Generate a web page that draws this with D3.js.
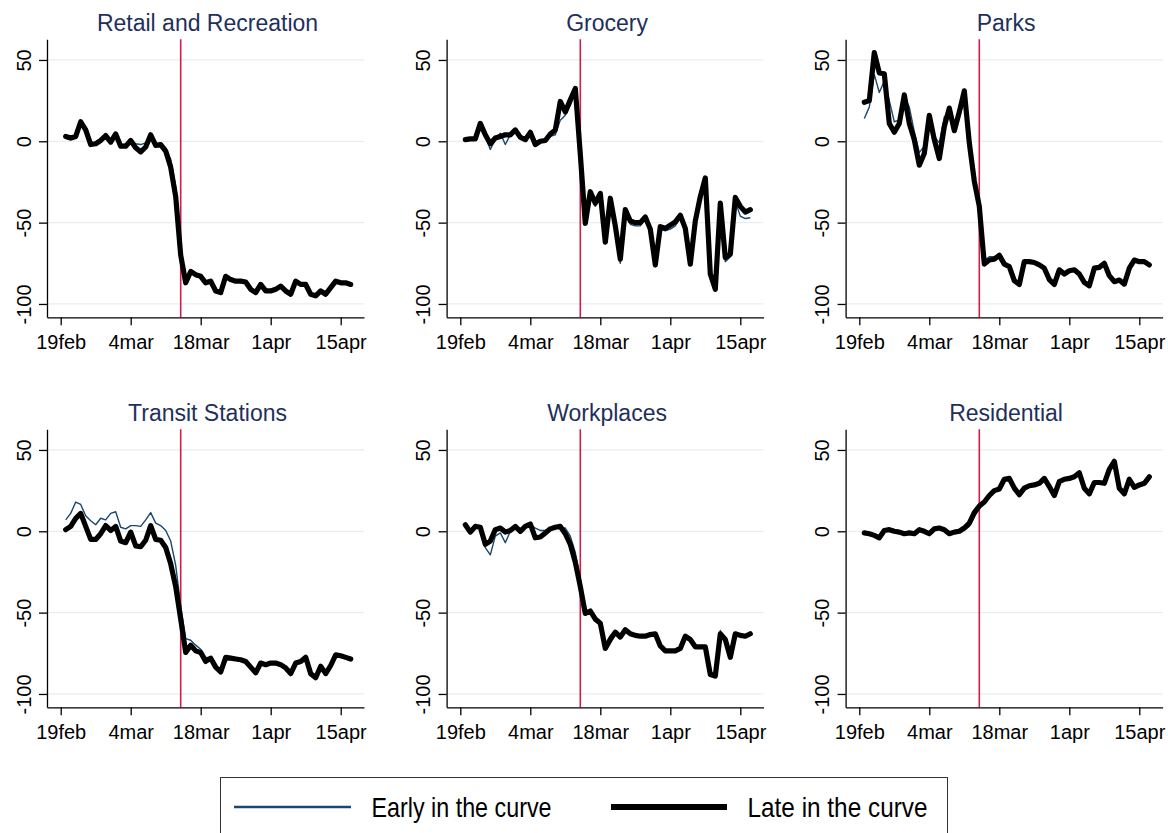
<!DOCTYPE html>
<html><head><meta charset="utf-8">
<script src="https://cdn.jsdelivr.net/npm/d3@7"></script>
<style>html,body{margin:0;padding:0;background:#fff;} svg{display:block;}</style>
</head><body><svg id="c" width="1168" height="833"></svg>
<script>
// ---------------- data ----------------
const panelTitles = ["Retail and Recreation","Grocery","Parks","Transit Stations","Workplaces","Residential"];
const seriesNames = ["Early in the curve","Late in the curve"];
const firstDate = "2020-02-20";           // first daily observation
const tickDates = ["2020-02-19","2020-03-04","2020-03-18","2020-04-01","2020-04-15"];
const tickLabels = ["19feb","4mar","18mar","1apr","15apr"];
const yTicks = [-100,-50,0,50];
const eventDate = "2020-03-14";

const retailEarly = [2,1,2,11,7,-1,-1,1,3,0, 4,-2,-2,0,-1.5,-2,-1,3.5,-2,-1, -4,-11,-28,-66,-85,-80,-82,-83,-86,-85, -91,-92,-83,-85,-86,-86,-87,-91,-92,-88, -92,-91,-90,-89,-91,-93,-86,-88,-88,-93, -94,-92,-93,-90,-86,-87,-87,-88];
const retailLate = [3,2,3,12,7,-2,-1.5,0.5,3.5,-0.5, 4.5,-3,-3,0.5,-4,-6.5,-3.5,4,-2.5,-2, -6,-16,-34,-70,-87,-80,-82,-83,-87,-86, -92,-93,-83,-85,-86,-86,-86.5,-91,-93,-88, -92,-92,-91,-89,-92,-94,-86,-88,-88,-94, -95,-92,-94,-90,-86,-87,-87,-88];

const groceryEarly = [1,1.5,2,10,3,-5,1,5,-2,4, 6.5,2,1,4,-1,0,1,3,4,13, 16,22,30,-10,-49,-33,-40,-34,-60,-37, -54,-75,-44,-51,-52,-52,-48,-56,-77,-54, -55,-54,-52,-47,-55,-76,-50,-36,-26,-82, -90,-40,-74,-71,-37,-46,-47.5,-47];
const groceryLate = [1,1.5,1.5,11,4,-1.5,2,3,4,4, 7,2.5,1,5.5,-2,0,0.5,4.5,7,24.5, 18,25.5,32.5,-8,-50.5,-31,-38,-32,-62,-35, -52,-72.5,-42,-49,-50,-50,-46.5,-54,-76,-52.5, -53.5,-51.5,-49.5,-45.5,-53.5,-75.5,-49,-34,-22.5,-81.5, -91,-38,-71.5,-69.5,-34.5,-40,-43.5,-42];

const parksEarly = [14,21,41,30,37,25,12,13,27.5,21, 6,-7,-3,13,3,-1,15,17,11,16, 24,0,-24,-40,-73,-71,-71,-70,-74,-77, -85,-88,-74,-74,-74.5,-76,-78,-84,-88,-78, -80.5,-79,-78.5,-81,-86,-88.5,-77.5,-76.5,-75,-82, -86,-85,-87,-78,-73,-74,-74,-75.5];
const parksLate = [24,25,54.5,42,41.5,11,5.5,11,28.5,11, 1,-14.7,-7.5,16,1,-10.6,9,20.4,6.5,18, 31,-1,-24.5,-40,-75.5,-73,-72.5,-70,-75.5,-77, -85.7,-88,-74,-74,-74.5,-76,-78,-85,-88,-79, -81.6,-79.6,-79,-81.6,-86.7,-88.8,-78,-77.5,-75,-82.6, -86.3,-85.3,-87.8,-78,-73,-74,-74,-76];

const transitEarly = [7,11,18,16.5,9.5,6.5,4,8,7,11, 12,2.5,1.5,3.5,3.5,3,7,11.5,5,3.5, 0.5,-6,-21,-46,-66,-67,-70,-72.5,-77.5,-77.5, -83,-86,-77.5,-78,-78.5,-79,-80,-83,-87,-81, -82,-81,-81,-82,-84,-87,-81,-80,-77.5,-87, -90,-83,-87,-82.5,-76,-76.5,-77.5,-78.5];
const transitLate = [1,3,8,11,3,-5,-5,-1.5,3.5,0.5, 3,-6,-7,-0.5,-9,-9.5,-5.5,3.5,-5,-5.5, -10,-20,-34,-54,-74.5,-70,-73.5,-74.5,-80,-78, -83.5,-86.5,-77.5,-78,-78.5,-79,-80,-83.5,-87,-81, -82,-81,-81,-82,-84,-87.5,-81,-80,-77.5,-87.5, -90,-83,-87.5,-82.5,-76,-76.5,-77.5,-78.5];

const workEarly = [3,0,2.5,2,-10,-14.5,-3,-1,-7,0, 2.5,0,3,4,2,0.5,0.5,1.5,3,2, 2,-3,-13,-30,-49,-50,-53,-56,-70,-64, -61,-64.5,-61,-63,-64,-64,-64,-63,-63,-71, -73,-73,-73,-72,-64,-67,-71,-71,-71,-86.5, -88,-61,-67,-77,-63,-64.5,-64.5,-63.5];
const workLate = [4,-0.5,3,2.5,-8,-6,1,2,-0.5,0.5, 3,0,3,4.5,-4,-3.5,-1,1.5,2.5,3, -1.5,-8,-19,-34,-50.5,-49,-54,-56.5,-72,-66.5, -62,-65,-60.5,-63,-64,-64.5,-64.5,-63.5,-63,-70.5, -73.5,-73.5,-73.5,-72,-64.5,-66.5,-71,-71,-71,-88, -89,-63,-66.5,-77.5,-63,-64,-64.5,-63];

const residentialEarly = [-1.5,-2,-3,-4,0,0.5,-0.5,-1,-1.5,-1.5, -1.5,0.5,0,-1.5,1,1.5,0.5,-1.5,-1,-0.5, 1,3,9,14,17.5,21.5,24.5,25.5,31,32, 26,22.5,26.5,27.5,28,29,32,27.5,22,30, 31,31.5,33,35,26,23,29.5,29.5,29,37, 42,26,23,31.5,27,28,29,33];
const residentialLate = [-1,-1.5,-2.5,-4,0.5,1,0,-0.5,-1.5,-1, -1.5,1,0,-1.5,1.5,2,1,-1.5,-0.5,0, 2,5,11.5,15.5,18,22,25,26,32,32.5, 26.5,22.5,26.5,28,28.5,29.5,32.5,27.5,22,30.5, 32,32.5,33.5,36,26.5,23,30,30,29.5,38, 43,26.5,23,32,27,28.5,29.5,33.5];

const earlySeries = [retailEarly, groceryEarly, parksEarly, transitEarly, workEarly, residentialEarly];
const lateSeries  = [retailLate, groceryLate, parksLate, transitLate, workLate, residentialLate];

// ---------------- layout ----------------
const FONT = "'Liberation Sans', Arial, Helvetica, sans-serif";
const colX = [47, 446.6, 845.6];
const rowY = [39.3, 429.3];
const pw = 317, ph = 278;
const DAY = 864e5;
const parse = d3.utcParse("%Y-%m-%d");
const base = parse(tickDates[0]);
const dates = d3.range(retailLate.length).map(i => d3.utcDay.offset(parse(firstDate), i));

const x = d3.scaleUtc().domain([new Date(+base - 2.74*DAY), new Date(+base + 60.66*DAY)]).range([0, pw]);
const y = d3.scaleLinear().domain([-108.2, 62.7]).range([ph, 0]);

const svg = d3.select("#c");
svg.append("rect").attr("width",1168).attr("height",833).attr("fill","#fff");

const line = d3.line().x((d,i)=>x(dates[i])).y(d=>y(d));

panelTitles.forEach((title, k) => {
  const c = k % 3, r = Math.floor(k / 3);
  const g = svg.append("g").attr("transform", `translate(${colX[c]},${rowY[r]})`);

  // grid
  g.selectAll("line.grid").data(yTicks).enter().append("line")
    .attr("x1", 0).attr("x2", pw).attr("y1", d=>y(d)).attr("y2", d=>y(d))
    .attr("stroke", "#e6eef1").attr("stroke-width", 1.2);

  // event line
  g.append("line").attr("x1", x(parse(eventDate))).attr("x2", x(parse(eventDate)))
    .attr("y1", 0).attr("y2", ph).attr("stroke", "#cc1f4c").attr("stroke-width", 1.6);

  // series
  g.append("path").datum(earlySeries[k]).attr("d", line)
    .attr("fill","none").attr("stroke","#1a476f").attr("stroke-width",1.4)
    .attr("stroke-linejoin","round");
  g.append("path").datum(lateSeries[k]).attr("d", line)
    .attr("fill","none").attr("stroke","#000").attr("stroke-width",5.2)
    .attr("stroke-linejoin","round").attr("stroke-linecap","round");

  // y axis
  const ya = g.append("g").call(d3.axisLeft(y).tickValues(yTicks).tickFormat(d => String(d)).tickSize(8).tickSizeOuter(0));
  ya.selectAll("text").attr("x", null).attr("dy", null)
    .attr("transform", "translate(-16.3,0) rotate(-90)")
    .attr("text-anchor", "middle");
  // x axis
  const xa = g.append("g").attr("transform", `translate(0,${ph})`)
    .call(d3.axisBottom(x).tickValues(tickDates.map(parse)).tickFormat((d,i)=>tickLabels[i]).tickSize(8).tickSizeOuter(0));
  xa.selectAll("text").attr("y", 32).attr("dy", null);

  [ya, xa].forEach(a => {
    a.attr("font-family", FONT).attr("font-size", 20);
    a.selectAll("text").attr("fill", "#000");
    a.selectAll("path,line").attr("stroke", "#000").attr("stroke-width", 1.3);
  });

  // title
  g.append("text").attr("x", pw/2 + 2).attr("y", -8).attr("text-anchor","middle")
    .attr("font-family", FONT).attr("font-size", 23).attr("fill", "#1f2f5c").text(title);
});

// ---------------- legend ----------------
const lg = svg.append("g");
lg.append("rect").attr("x", 220.5).attr("y", 777.5).attr("width", 727).attr("height", 80)
  .attr("fill","#fff").attr("stroke","#333").attr("stroke-width",1);
const legendItems = [
  {name: seriesNames[0], color: "#1a476f", w: 2.6, x1: 234, x2: 351, tx: 371.5, tl: 180},
  {name: seriesNames[1], color: "#000", w: 6, x1: 611, x2: 727, tx: 747.5, tl: 180}
];
legendItems.forEach(it => {
  lg.append("line").attr("x1", it.x1).attr("x2", it.x2).attr("y1", 807).attr("y2", 807)
    .attr("stroke", it.color).attr("stroke-width", it.w);
  lg.append("text").attr("x", it.tx).attr("y", 817).attr("font-family", FONT)
    .attr("font-size", 28).attr("textLength", it.tl).attr("lengthAdjust","spacingAndGlyphs")
    .attr("fill","#000").text(it.name);
});
</script></body></html>
